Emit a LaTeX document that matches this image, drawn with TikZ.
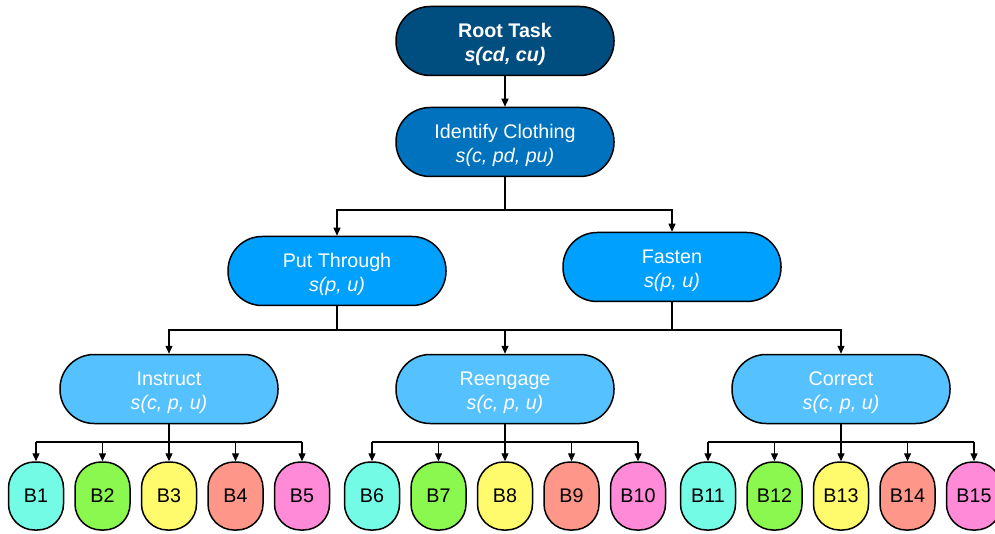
\documentclass[tikz,border=0pt]{standalone}
\usepackage{fontspec}
\setmainfont{Liberation Sans}
\usetikzlibrary{arrows.meta}

\definecolor{rootblue}{HTML}{004D80}
\definecolor{identblue}{HTML}{0072BE}
\definecolor{midblue}{HTML}{00A0FF}
\definecolor{skyblue}{HTML}{56C1FF}
\definecolor{bcyan}{HTML}{73FBE6}
\definecolor{bgreen}{HTML}{8AF84F}
\definecolor{byellow}{HTML}{FFFB6C}
\definecolor{bsalmon}{HTML}{FF968A}
\definecolor{bpink}{HTML}{FF8AD8}

\newcommand{\toplinestrut}{\rule{0pt}{21pt}}

\tikzset{
  task/.style={draw=black, line width=1.5pt, rounded corners=34pt,
    minimum width=218pt, minimum height=69pt, align=center,
    text=white, font=\fontsize{19.7}{24}\selectfont},
  leaf/.style={draw=black, line width=1.5pt, rounded corners=26pt,
    minimum width=55pt, minimum height=68pt, inner sep=0pt,
    font=\fontsize{19.7}{22}\selectfont},
  link/.style={line width=1.3pt},
  arrowlink/.style={line width=1.3pt, -{Triangle[length=8pt,width=7pt]}},
}

\begin{document}
\begin{tikzpicture}[x=1pt, y=-1pt]
\useasboundingbox (0,0) rectangle (995,534);

% task hierarchy
\node[task, fill=rootblue] (root) at (505,41)
  {\toplinestrut\textbf{Root Task}\\\textbf{\textit{s(cd, cu)}}};
\node[task, fill=identblue] (ident) at (505,142)
  {\toplinestrut Identify Clothing\\\textit{s(c, pd, pu)}};
\node[task, fill=midblue] (put) at (337,271)
  {\toplinestrut Put Through\\\textit{s(p, u)}};
\node[task, fill=midblue] (fasten) at (672,267)
  {\toplinestrut Fasten\\\textit{s(p, u)}};
\node[task, fill=skyblue] (instruct) at (169,389)
  {\toplinestrut Instruct\\\textit{s(c, p, u)}};
\node[task, fill=skyblue] (reengage) at (505,389)
  {\toplinestrut Reengage\\\textit{s(c, p, u)}};
\node[task, fill=skyblue] (correct) at (841,389)
  {\toplinestrut Correct\\\textit{s(c, p, u)}};

% behaviour leaves
\foreach \cx/\first in {169/1, 505/6, 841/11} {
  \foreach \k/\col in {0/bcyan, 1/bgreen, 2/byellow, 3/bsalmon, 4/bpink} {
    \pgfmathtruncatemacro{\num}{\first+\k}
    \node[leaf, fill=\col] (b\num) at ({\cx+(\k-2)*66.5},496) {B\num};
  }
}

% connectors
\draw[arrowlink] (root.south) -- (ident.north);

\coordinate (j1) at (505,210);
\draw[link] (ident.south) -- (j1);
\draw[arrowlink] (j1) -| (put.north);
\draw[arrowlink] (j1) -| (fasten.north);

\coordinate (j2) at (505,330);
\draw[link] (put.south) |- (j2);
\draw[link] (fasten.south) |- (j2);
\draw[arrowlink] (j2) -| (instruct.north);
\draw[arrowlink] (j2) -| (correct.north);
\draw[arrowlink] (j2) -- (reengage.north);

\foreach \p/\a/\b/\c/\d/\e in {instruct/1/2/3/4/5, reengage/6/7/8/9/10, correct/11/12/13/14/15} {
  \coordinate (hub\p) at (\p.south |- 0,442);
  \draw[link] (\p.south) -- (hub\p);
  \draw[link] (b\a.north |- hub\p) -- (b\e.north |- hub\p);
  \foreach \n in {\a,\b,\c,\d,\e} {
    \draw[arrowlink] (b\n.north |- hub\p) -- (b\n.north);
  }
}
\end{tikzpicture}
\end{document}
